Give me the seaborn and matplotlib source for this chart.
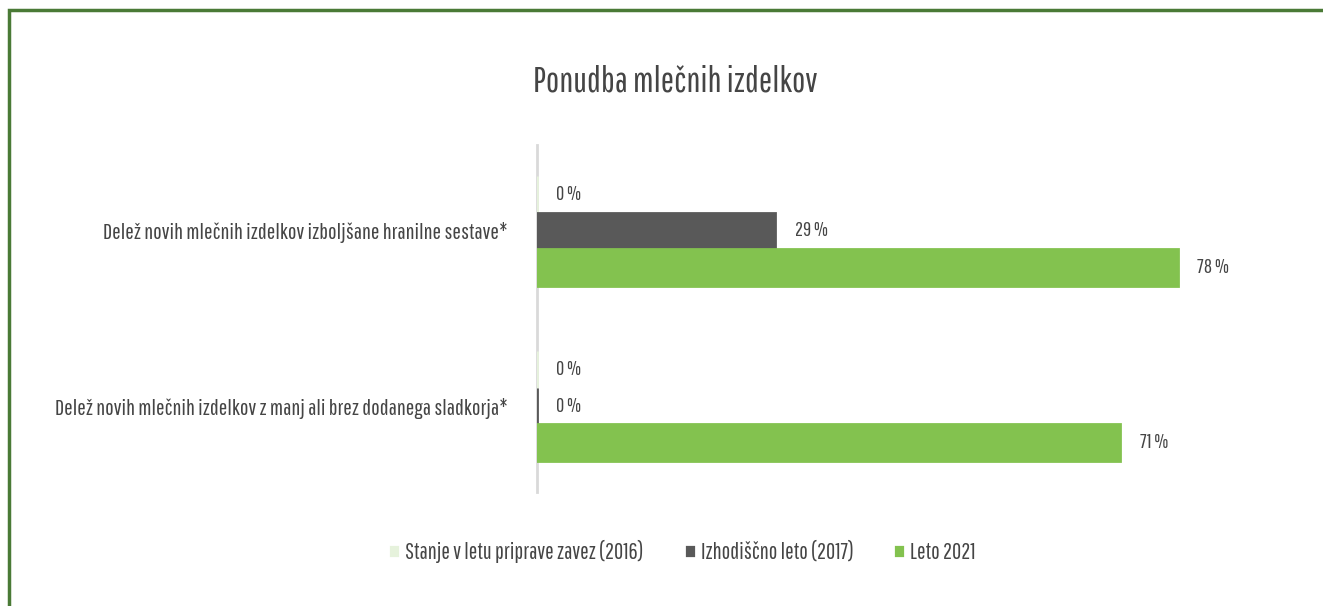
import seaborn as sns
import matplotlib.pyplot as plt
import pandas as pd
from matplotlib.patches import Rectangle

categories = [
    "Delež novih mlečnih izdelkov izboljšane hranilne sestave*",
    "Delež novih mlečnih izdelkov z manj ali brez dodanega sladkorja*",
]
series = ["Stanje v letu priprave zavez (2016)", "Izhodiščno leto (2017)", "Leto 2021"]
values_2016 = [0, 0]
values_2017 = [29, 0]
values_2021 = [78, 71]
colors = ["#e6f2dc", "#595959", "#83c24f"]
title = "Ponudba mlečnih izdelkov"

df = pd.DataFrame({
    "kategorija": categories * 3,
    "serija": [s for s in series for _ in categories],
    "vrednost": values_2016 + values_2017 + values_2021,
})

sns.set_style("white")
plt.rcParams['font.family'] = ['Pathway Gothic One', 'Fira Sans Extra Condensed',
                               'Barlow Condensed', 'DejaVu Sans']
text_col = "#454545"

fig = plt.figure(figsize=(13.23, 6.06), dpi=100)
renderer = fig.canvas.get_renderer()


def fit_size(s, width_px):
    # font size (pt) that makes the text roughly width_px wide
    t = fig.text(0, 0, s, fontsize=20)
    w = t.get_window_extent(renderer).width
    t.remove()
    return 20 * width_px / w


tick_fs = fit_size(categories[0], 403)
legend_fs = fit_size(series[0], 238)
title_fs = fit_size(title, 283)
value_fs = fit_size("29 %", 33)

ax = fig.add_axes([0.4059, 0.188, 0.4966, 0.5727])

sns.barplot(data=df, y="kategorija", x="vrednost", hue="serija", order=categories,
            hue_order=series, palette=colors, orient="h", width=0.625,
            linewidth=2, saturation=1, ax=ax, legend=True)
for cont, col in zip(ax.containers, colors):
    for p in cont:
        p.set_edgecolor(col)
    ax.bar_label(cont, labels=[f"{int(v)} %" for v in cont.datavalues],
                 padding=14, fontsize=value_fs, color=text_col)

ax.set_xlim(0, 80)
ax.set_ylim(1.49, -0.49)
ax.set_xlabel("")
ax.set_ylabel("")
ax.set_xticks([])
for s in ["top", "right", "bottom"]:
    ax.spines[s].set_visible(False)
ax.spines["left"].set_color("#d9d9d9")
ax.spines["left"].set_linewidth(2)
ax.spines["left"].set_zorder(0.5)
ax.tick_params(axis="y", length=0, pad=21, labelsize=tick_fs, labelcolor=text_col)

handles, labels = ax.get_legend_handles_labels()
ax.get_legend().remove()
em = legend_fs * 100 / 72
fig.legend(handles, labels, loc="center", bbox_to_anchor=(0.5155, 0.09), ncol=3,
           frameon=False, fontsize=legend_fs, handlelength=12 / em, handleheight=12 / em,
           handletextpad=5 / em, columnspacing=40 / em, labelcolor=text_col)

fig.text(0.51, 0.867, title, ha="center", va="center", fontsize=title_fs, color=text_col)

fig.patches.append(Rectangle((0.0065, -0.1), 1.2, 1.0835, transform=fig.transFigure,
                             fill=False, edgecolor="#4a7a36", linewidth=2.5))

fig.savefig("out.png", dpi=100)
